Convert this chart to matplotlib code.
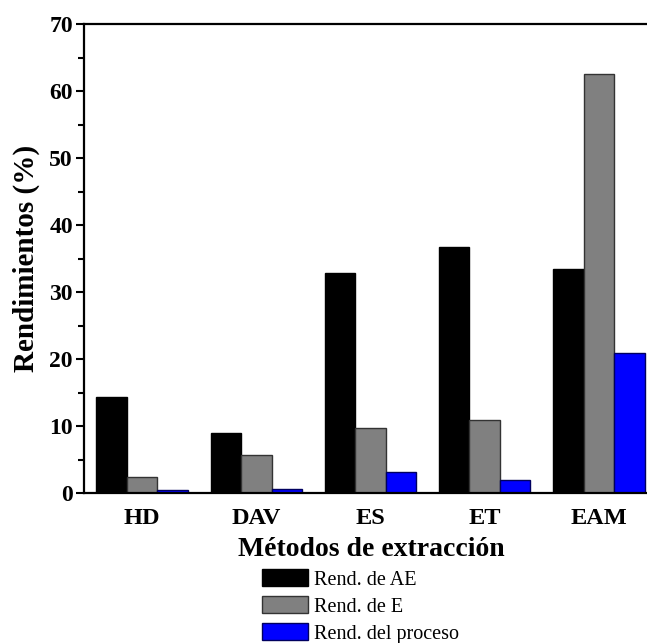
import numpy as np
import matplotlib
matplotlib.use("Agg")
import matplotlib.pyplot as plt
from matplotlib.ticker import MultipleLocator

# datos
metodos = ['HD', 'DAV', 'ES', 'ET', 'EAM']
rend_ae = [14.3, 8.9, 32.8, 36.7, 33.5]
rend_e = [2.4, 5.7, 9.7, 10.9, 62.6]
rend_proceso = [0.4, 0.55, 3.2, 1.9, 20.9]
series_labels = ['Rend. de AE', 'Rend. de E', 'Rend. del proceso']

plt.rcParams['font.family'] = ['Liberation Serif', 'DejaVu Serif']

fig = plt.figure(figsize=(6.47, 6.43), dpi=100)
W, H = 647, 643
# el eje se sale por la derecha como en la imagen original
ax = fig.add_axes([84 / W, 1 - 493 / H, (657 - 84) / W, (493 - 24) / H])

x = np.arange(1, len(metodos) + 1)
w = 0.267
ax.bar(x - w, rend_ae, w, color='black', edgecolor='black', linewidth=1, label=series_labels[0])
ax.bar(x, rend_e, w, color='#808080', edgecolor='#333333', linewidth=1, label=series_labels[1])
ax.bar(x + w, rend_proceso, w, color='#0000ff', edgecolor='#000060', linewidth=1, label=series_labels[2])

ax.set_xlim(0.49, 5.51)
ax.set_ylim(0, 70)
ax.yaxis.set_major_locator(MultipleLocator(10))
ax.yaxis.set_minor_locator(MultipleLocator(5))
ax.set_xticks(x)
ax.set_xticklabels(metodos, fontsize=17.5, fontweight='bold')
for lab in ax.get_yticklabels():
    lab.set_fontsize(17)
    lab.set_fontweight('bold')
ax.tick_params(axis='y', which='major', direction='out', length=6, width=1.5, pad=2)
ax.tick_params(axis='y', which='minor', direction='out', length=4, width=1.5)
ax.tick_params(axis='x', length=0, pad=11)
for s in ax.spines.values():
    s.set_linewidth(1.6)

ax.set_ylabel('Rendimientos (%)', fontsize=21, fontweight='bold')
ax.yaxis.set_label_coords(-(84 - 40) / (657 - 84), 0.5, transform=ax.transAxes)
ax.set_xlabel('Métodos de extracción', fontsize=20, fontweight='bold')
ax.xaxis.set_label_coords((371 - 84) / (657 - 84), -(537 - 493) / (493 - 24), transform=ax.transAxes)

leg = fig.legend(loc='upper left', bbox_to_anchor=(262 / W, 1 - 569 / H), frameon=False,
                 fontsize=14.5, handlelength=2.3, handleheight=0.95, handletextpad=0.3,
                 labelspacing=0.32, borderpad=0, borderaxespad=0)

fig.savefig('out.png', dpi=100)
